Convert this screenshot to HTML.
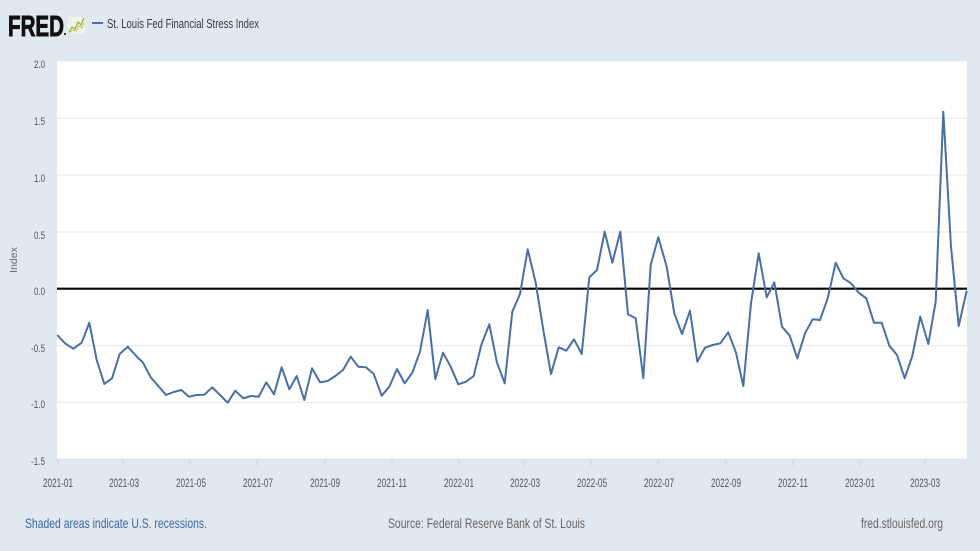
<!DOCTYPE html>
<html><head><meta charset="utf-8"><style>
html,body{margin:0;padding:0;background:#e0e8f0;}
svg{display:block;}
text{font-family:"Liberation Sans",sans-serif;}
</style></head><body>
<svg width="980" height="551" viewBox="0 0 980 551" xmlns="http://www.w3.org/2000/svg">
<rect x="0" y="0" width="980" height="551" fill="#e0e8f0"/>
<!-- header -->
<text x="8" y="36" font-size="29" font-weight="bold" fill="#111" stroke="#111" stroke-width="0.9" textLength="56" lengthAdjust="spacingAndGlyphs">FRED</text>
<rect x="64" y="33" width="2" height="2" fill="#333"/>
<rect x="68" y="17" width="17" height="17" fill="#eef2e8"/>
<polyline points="69,32 72,27 75,29 78,22 81,25 84,18" fill="none" stroke="#8fbf3f" stroke-width="1.3"/>
<polyline points="69,33 73,30 76,31 79,26 82,28 84,23" fill="none" stroke="#d8c24a" stroke-width="1"/>
<line x1="92" y1="23" x2="103" y2="23" stroke="#4a6fa5" stroke-width="2"/>
<text x="107" y="28" font-size="12.5" fill="#3a3a3a" textLength="152" lengthAdjust="spacingAndGlyphs">St. Louis Fed Financial Stress Index</text>
<!-- plot area -->
<rect x="57" y="61.5" width="910" height="397.5" fill="#ffffff"/>
<g stroke="#e6e6e6" stroke-width="1">
<line x1="57" y1="118.3" x2="967" y2="118.3"/>
<line x1="57" y1="175.1" x2="967" y2="175.1"/>
<line x1="57" y1="232" x2="967" y2="232"/>
<line x1="57" y1="345.6" x2="967" y2="345.6"/>
<line x1="57" y1="402.3" x2="967" y2="402.3"/>
<line x1="57" y1="459" x2="967" y2="459"/>
</g>
<g stroke="#ccd6e0" stroke-width="1">
<line x1="58" y1="459" x2="58" y2="466"/>
<line x1="123" y1="459" x2="123" y2="466"/>
<line x1="190" y1="459" x2="190" y2="466"/>
<line x1="257" y1="459" x2="257" y2="466"/>
<line x1="325" y1="459" x2="325" y2="466"/>
<line x1="392" y1="459" x2="392" y2="466"/>
<line x1="459" y1="459" x2="459" y2="466"/>
<line x1="524" y1="459" x2="524" y2="466"/>
<line x1="591" y1="459" x2="591" y2="466"/>
<line x1="658" y1="459" x2="658" y2="466"/>
<line x1="726" y1="459" x2="726" y2="466"/>
<line x1="793" y1="459" x2="793" y2="466"/>
<line x1="860" y1="459" x2="860" y2="466"/>
<line x1="925" y1="459" x2="925" y2="466"/>
</g>
<line x1="57" y1="288.7" x2="967" y2="288.7" stroke="#000" stroke-width="2.2"/>
<!-- series -->
<polyline fill="none" stroke="#4a6fa5" stroke-width="2" stroke-linejoin="round" points="57.3,335 65,343.3 73.3,348.7 81.7,342.7 89.3,322.7 96.7,360 104.3,384 112,378.3 119.7,354 127.7,346.7 135.3,355 143,362.7 150.7,377.3 158.3,386 166,395 173.7,392 181.3,390 189,396.7 196.7,395 204.3,394.7 212.3,387.3 220,395 227.7,402.7 235.3,390.7 243.3,398.3 251,396 258.7,396.7 266.3,382.3 274,394.3 281.7,367.3 289.3,389.3 296.7,376 304.3,400 312,368.3 320,382.3 327.7,381 335.3,376 343,370 350.7,356.7 358.3,366.7 366,367.3 373.7,374 381.7,395.7 389.3,386.7 397,369 404.7,383.3 412.3,372.7 420,351.7 427.7,310 435.3,379 443,352.7 450.7,366.7 458.3,384.3 466,381.7 473.7,376 481.3,345 489.3,324.3 497,362.7 504.7,383.3 512.3,311.7 520,294 527.7,249.3 535.7,282.7 543.3,330 551,374 558.7,347.3 566.3,350.7 574,339.3 581.7,354 589.3,277.3 597,270 604.7,231.7 612.3,262.7 620.3,231.7 628,314.3 635.7,318.3 643.3,378.3 650.7,265 658.3,237.3 666.7,266.7 674.3,313.3 682,334 690,310.7 697.3,361.7 705,347.7 712.7,345 720.3,343.3 728.3,332.3 736,352.7 743.3,386 751,303.3 758.7,253.3 766.7,297.3 774.3,282.3 782,326.7 789.7,335.7 797.3,358.3 805,333.3 812.7,319.3 820,320 827.7,298.3 835.7,262.7 843.3,278.3 851,283.3 858.7,292.7 866.3,298.3 874,322.7 881.7,322.7 889.3,345.7 897,355 904.7,378.3 912.3,356 920.3,316.7 928.3,344 935.7,301.7 943.3,111.7 951,246.7 958.7,326 966.7,290.7"/>
<!-- y labels -->
<g font-size="11" fill="#555" text-anchor="end">
<text x="45" y="68" textLength="11" lengthAdjust="spacingAndGlyphs">2.0</text>
<text x="45" y="125" textLength="11" lengthAdjust="spacingAndGlyphs">1.5</text>
<text x="45" y="182" textLength="11" lengthAdjust="spacingAndGlyphs">1.0</text>
<text x="45" y="239" textLength="11" lengthAdjust="spacingAndGlyphs">0.5</text>
<text x="45" y="295" textLength="11" lengthAdjust="spacingAndGlyphs">0.0</text>
<text x="45" y="352" textLength="14" lengthAdjust="spacingAndGlyphs">-0.5</text>
<text x="45" y="408" textLength="14" lengthAdjust="spacingAndGlyphs">-1.0</text>
<text x="45" y="465" textLength="14" lengthAdjust="spacingAndGlyphs">-1.5</text>
</g>
<text x="0" y="0" font-size="10.5" fill="#666" text-anchor="middle" transform="translate(17,260) rotate(-90)">Index</text>
<!-- x labels -->
<g font-size="12" fill="#555" text-anchor="middle">
<text x="58" y="487" textLength="30" lengthAdjust="spacingAndGlyphs">2021-01</text>
<text x="124" y="487" textLength="30" lengthAdjust="spacingAndGlyphs">2021-03</text>
<text x="191" y="487" textLength="30" lengthAdjust="spacingAndGlyphs">2021-05</text>
<text x="258" y="487" textLength="30" lengthAdjust="spacingAndGlyphs">2021-07</text>
<text x="325" y="487" textLength="30" lengthAdjust="spacingAndGlyphs">2021-09</text>
<text x="392" y="487" textLength="30" lengthAdjust="spacingAndGlyphs">2021-11</text>
<text x="459" y="487" textLength="30" lengthAdjust="spacingAndGlyphs">2022-01</text>
<text x="525" y="487" textLength="30" lengthAdjust="spacingAndGlyphs">2022-03</text>
<text x="592" y="487" textLength="30" lengthAdjust="spacingAndGlyphs">2022-05</text>
<text x="659" y="487" textLength="30" lengthAdjust="spacingAndGlyphs">2022-07</text>
<text x="726" y="487" textLength="30" lengthAdjust="spacingAndGlyphs">2022-09</text>
<text x="793" y="487" textLength="30" lengthAdjust="spacingAndGlyphs">2022-11</text>
<text x="860" y="487" textLength="30" lengthAdjust="spacingAndGlyphs">2023-01</text>
<text x="925" y="487" textLength="30" lengthAdjust="spacingAndGlyphs">2023-03</text>
</g>
<!-- footer -->
<text x="25" y="528" font-size="14" fill="#3d68a0" textLength="182" lengthAdjust="spacingAndGlyphs">Shaded areas indicate U.S. recessions.</text>
<text x="388" y="528" font-size="14" fill="#666" textLength="197" lengthAdjust="spacingAndGlyphs">Source: Federal Reserve Bank of St. Louis</text>
<text x="861" y="528" font-size="14" fill="#666" textLength="82" lengthAdjust="spacingAndGlyphs">fred.stlouisfed.org</text>
</svg>
</body></html>
